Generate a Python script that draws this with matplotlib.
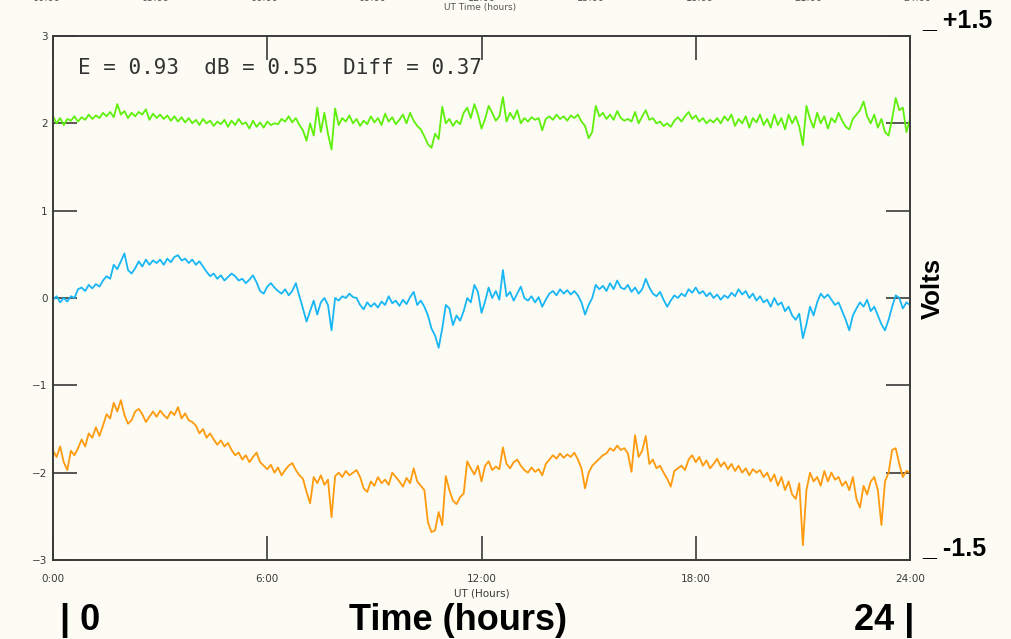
import numpy as np
import matplotlib
matplotlib.use("Agg")
import matplotlib.pyplot as plt

# ---------------- data ----------------
hours = np.round(np.arange(0, 24.01, 0.1), 1)

green = [
    2.08, 2.00, 2.06, 1.98, 2.05, 2.03, 2.08, 2.02, 2.07, 2.04,
    2.10, 2.05, 2.09, 2.06, 2.12, 2.08, 2.13, 2.07, 2.22, 2.10,
    2.14, 2.06, 2.12, 2.08, 2.13, 2.10, 2.16, 2.04, 2.11, 2.06,
    2.10, 2.05, 2.09, 2.03, 2.08, 2.02, 2.07, 2.01, 2.06, 2.00,
    2.04, 1.98, 2.05, 2.00, 2.03, 1.97, 2.02, 1.99, 2.04, 1.96,
    2.03, 1.98, 2.05, 1.99, 2.01, 1.94, 2.03, 1.96, 2.01, 1.95,
    2.02, 1.98, 2.00, 1.99, 2.05, 2.02, 2.08, 2.01, 2.06, 1.98,
    1.92, 1.80, 2.00, 1.86, 2.18, 1.90, 2.12, 1.88, 1.70, 2.17,
    1.98, 2.06, 2.02, 2.09, 2.00, 2.05, 1.97, 2.03, 1.99, 2.08,
    2.01, 2.06, 1.98, 2.11, 2.02, 2.07, 1.99, 2.04, 2.10, 2.00,
    2.12, 2.03, 1.97, 1.93, 1.85, 1.76, 1.72, 1.88, 1.82, 2.19,
    2.00, 2.05, 1.97, 2.03, 1.99, 2.12, 2.18, 2.06, 2.22, 2.10,
    1.94, 2.05, 2.20, 2.12, 2.03, 2.08, 2.30, 2.02, 2.12, 2.05,
    2.15, 2.00, 2.06, 2.02, 2.07, 2.04, 2.06, 1.92, 2.05, 2.08,
    2.04, 2.10, 2.05, 2.08, 2.03, 2.09, 2.06, 2.10, 2.02, 1.97,
    1.83, 1.90, 2.20, 2.08, 2.12, 2.05, 2.10, 2.04, 2.14, 2.06,
    2.03, 2.05, 2.02, 2.13, 2.00, 2.08, 2.15, 2.04, 2.06, 2.00,
    2.02, 1.97, 2.00, 1.96, 2.03, 2.07, 2.02, 2.08, 2.13, 2.05,
    2.09, 2.02, 2.06, 2.00, 2.04, 2.01, 2.06, 2.00, 2.08, 2.03,
    2.10, 1.97, 2.05, 2.00, 2.08, 1.95, 2.06, 2.01, 2.10, 1.98,
    2.05, 1.95, 2.10, 1.98, 2.06, 1.93, 2.10, 2.00, 2.08, 1.96,
    1.75, 2.20, 2.05, 1.95, 2.12, 2.00, 2.08, 1.94, 2.06, 2.01,
    2.12, 2.03, 1.96, 1.93, 2.05, 2.10, 2.15, 2.25, 2.08, 2.00,
    2.10, 1.95, 2.05, 1.90, 1.86, 2.05, 2.29, 2.15, 2.18, 1.90,
    2.05,
]

blue = [
    -0.02, 0.02, -0.05, 0.00, -0.04, 0.02, 0.00, 0.10, 0.12, 0.08,
    0.15, 0.11, 0.16, 0.13, 0.20, 0.25, 0.22, 0.38, 0.33, 0.42,
    0.51, 0.32, 0.28, 0.34, 0.42, 0.36, 0.44, 0.38, 0.43, 0.40,
    0.44, 0.38, 0.45, 0.41, 0.47, 0.49, 0.43, 0.45, 0.40, 0.44,
    0.38, 0.42, 0.36, 0.30, 0.25, 0.28, 0.22, 0.26, 0.20, 0.24,
    0.28, 0.25, 0.20, 0.22, 0.17, 0.21, 0.26, 0.18, 0.08, 0.05,
    0.13, 0.17, 0.12, 0.08, 0.05, 0.10, 0.03, 0.08, 0.17, 0.02,
    -0.12, -0.27, -0.15, -0.03, -0.19, -0.05, 0.00, -0.08, -0.37, 0.00,
    -0.03, 0.02, 0.00, 0.05, 0.01, 0.00, -0.08, -0.13, -0.05, -0.10,
    -0.06, -0.11, -0.04, -0.08, 0.02, -0.06, -0.03, -0.09, -0.02, -0.07,
    0.01, 0.07, -0.08, -0.03, -0.10, -0.20, -0.35, -0.43, -0.57, -0.35,
    -0.08, -0.12, -0.31, -0.20, -0.26, -0.15, 0.00, -0.05, 0.15, 0.07,
    -0.17, -0.04, 0.12, 0.00, 0.08, -0.02, 0.32, 0.02, 0.07, -0.03,
    0.05, 0.13, 0.00, -0.03, 0.02, -0.05, 0.01, -0.10, -0.02, 0.05,
    0.08, 0.03, 0.10, 0.05, 0.09, 0.04, 0.08, 0.03, -0.05, -0.19,
    -0.08, 0.00, 0.15, 0.10, 0.14, 0.08, 0.17, 0.10, 0.20, 0.12,
    0.10, 0.15, 0.07, 0.12, 0.05, 0.10, 0.22, 0.12, 0.05, 0.02,
    0.07, -0.02, -0.10, -0.03, 0.03, 0.00, 0.05, 0.02, 0.10, 0.06,
    0.12, 0.05, 0.08, 0.02, 0.06, 0.00, 0.04, -0.02, 0.03, 0.00,
    0.06, 0.02, 0.10, 0.04, 0.08, 0.00, 0.05, -0.03, 0.02, -0.05,
    -0.02, -0.10, 0.00, -0.08, -0.05, -0.15, -0.10, -0.20, -0.25, -0.18,
    -0.46, -0.30, -0.10, -0.20, -0.05, 0.05, 0.00, 0.04, -0.02, -0.08,
    -0.05, -0.15, -0.25, -0.37, -0.20, -0.12, -0.05, -0.10, -0.02, -0.15,
    -0.10, -0.20, -0.30, -0.37, -0.25, -0.10, 0.03, 0.00, -0.12, -0.05,
    -0.08,
]

orange = [
    -1.75, -1.82, -1.70, -1.88, -1.97, -1.75, -1.80, -1.72, -1.62, -1.70,
    -1.55, -1.60, -1.48, -1.58, -1.46, -1.33, -1.38, -1.20, -1.30, -1.17,
    -1.34, -1.44, -1.40, -1.30, -1.27, -1.33, -1.42, -1.36, -1.30, -1.36,
    -1.29, -1.34, -1.38, -1.30, -1.34, -1.25, -1.38, -1.32, -1.40, -1.42,
    -1.46, -1.55, -1.50, -1.60, -1.55, -1.62, -1.68, -1.63, -1.70, -1.66,
    -1.74, -1.80, -1.77, -1.85, -1.80, -1.88, -1.82, -1.77, -1.88, -1.92,
    -1.96, -1.91, -2.00, -1.94, -2.03, -1.97, -1.92, -1.89, -1.97, -2.03,
    -2.07, -2.22, -2.35, -2.05, -2.12, -2.03, -2.14, -2.08, -2.51, -2.04,
    -2.00, -2.05, -1.98, -2.03, -2.00, -1.97, -2.05, -2.18, -2.22, -2.10,
    -2.15, -2.05, -2.12, -2.08, -2.14, -2.00, -2.05, -2.10, -2.16, -2.06,
    -2.12, -1.95, -2.10, -2.15, -2.20, -2.57, -2.68, -2.66, -2.45, -2.60,
    -2.04, -2.20, -2.32, -2.36, -2.28, -2.24, -1.87, -1.95, -2.02, -1.92,
    -2.10, -1.92, -1.87, -1.97, -1.93, -1.96, -1.71, -1.90, -1.95, -1.88,
    -1.85, -1.92, -1.97, -2.00, -1.94, -1.99, -1.96, -2.03, -1.90, -1.85,
    -1.80, -1.84, -1.78, -1.83, -1.79, -1.82, -1.77, -1.85, -1.95, -2.18,
    -2.00, -1.92, -1.88, -1.84, -1.80, -1.78, -1.72, -1.75, -1.69, -1.74,
    -1.72, -1.78, -1.99, -1.57, -1.82, -1.75, -1.58, -1.90, -1.85, -1.95,
    -1.92, -2.00, -2.07, -2.16, -1.98, -1.95, -1.92, -1.97, -1.85, -1.80,
    -1.88, -1.82, -1.92, -1.86, -1.95, -1.90, -1.84, -1.93, -1.88, -1.96,
    -1.90, -1.98, -1.92, -2.00, -1.95, -2.03, -1.96, -2.00, -1.97, -2.05,
    -2.00, -2.10, -2.02, -2.15, -2.05, -2.20, -2.10, -2.25, -2.30, -2.12,
    -2.83, -2.20, -2.00, -2.10, -2.05, -2.15, -1.98, -2.10, -2.00, -2.08,
    -2.05, -2.15, -2.10, -2.20, -2.05, -2.30, -2.40, -2.15, -2.25, -2.10,
    -2.05, -2.20, -2.60, -2.10, -2.00, -1.74, -1.72, -1.90, -2.05, -1.98,
    -2.00,
]

x_ticks = [0, 6, 12, 18, 24]
x_ticklabels = ["0:00", "6:00", "12:00", "18:00", "24:00"]
y_ticks = [-3, -2, -1, 0, 1, 2, 3]
y_ticklabels = ["\u22123", "\u22122", "\u22121", "0", "1", "2", "3"]
top_labels = ["00:00", "03:00", "06:00", "09:00", "12:00", "15:00", "18:00", "21:00", "24:00"]
stats_text = "E = 0.93  dB = 0.55  Diff = 0.37"

# ---------------- figure ----------------
bg = "#fcfcf4"
dark = "#3a3a3a"
fig = plt.figure(figsize=(10.12, 6.39), dpi=100, facecolor=bg)
ax = fig.add_axes([0.0524, 0.1236, 0.8468, 0.8201], facecolor=bg)

ax.plot(hours, green, color="#5ef00a", lw=1.3, zorder=2)
ax.plot(hours, blue, color="#18b6f4", lw=1.3, zorder=2)
ax.plot(hours, orange, color="#ff9a0e", lw=1.3, zorder=2)

ax.set_xlim(0, 24)
ax.set_ylim(-3, 3)
ax.set_xticks(x_ticks)
ax.set_xticklabels(x_ticklabels)
ax.set_yticks(y_ticks)
ax.set_yticklabels(y_ticklabels)
ax.tick_params(axis="both", direction="in", length=17, width=1.2, color=dark,
               labelsize=7.5, labelcolor=dark, top=True, right=True)
ax.tick_params(axis="x", pad=10)
ax.tick_params(axis="y", pad=4)
for s in ax.spines.values():
    s.set_color(dark)
    s.set_linewidth(1.4)

ax.set_xlabel("UT (Hours)", fontsize=7.5, color=dark, labelpad=3)

ax.text(0.029, 0.958, stats_text, transform=ax.transAxes, fontsize=15,
        family="DejaVu Sans Mono", color="#333333", va="top", ha="left")

# cut-off top axis labels (remnant of another plot, mostly outside the image)
for i, lab in enumerate(top_labels):
    fig.text((46 + i * 108.9) / 1012, 1.0 - 3 / 639, lab, fontsize=7, color="#555555",
             ha="center", va="bottom")
fig.text(480 / 1012, 1.0 - 3 / 639, "UT Time (hours)", fontsize=6.5, color="#555555",
         ha="center", va="top")

# bold annotations
bold = dict(family="Liberation Sans", fontweight="bold", color="black")
fig.text(922 / 1012, 1 - 20 / 639, "_ +1.5", fontsize=18, ha="left", va="center", **bold)
fig.text(922 / 1012, 1 - 548 / 639, "_ -1.5", fontsize=18, ha="left", va="center", **bold)
fig.text(933 / 1012, 1 - 288 / 639, "Volts", fontsize=18.5, rotation=90,
         ha="center", va="center", **bold)
fig.text(60 / 1012, 1 - 620 / 639, "| 0", fontsize=26, ha="left", va="center", **bold)
fig.text(458 / 1012, 1 - 620 / 639, "Time (hours)", fontsize=26, ha="center", va="center", **bold)
fig.text(914 / 1012, 1 - 620 / 639, "24 |", fontsize=26, ha="right", va="center", **bold)

fig.savefig("out.png", dpi=100, facecolor=bg)
